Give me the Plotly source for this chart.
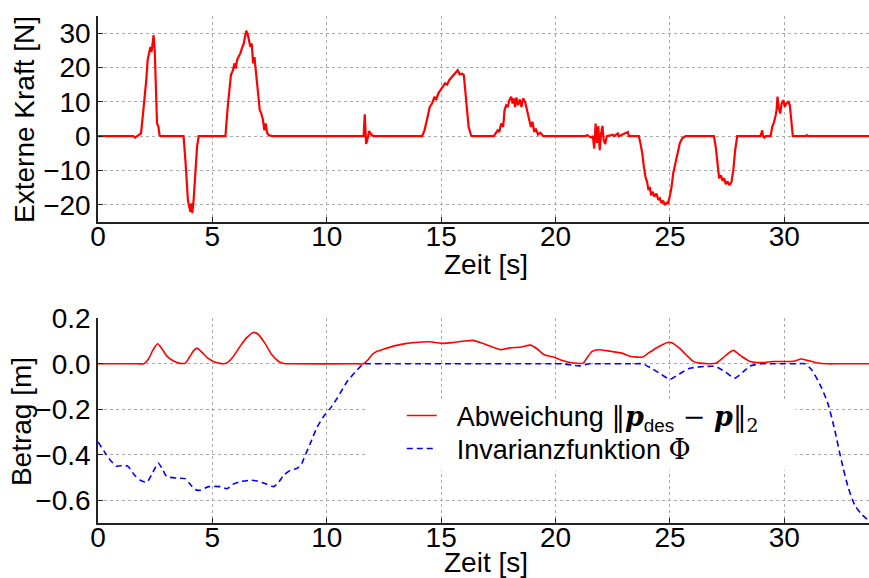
import plotly.graph_objects as go

# ---------------- data ----------------
force_t = [0, 1.55, 1.62, 1.70, 1.78, 1.88, 1.94, 1.99, 2.07, 2.11, 2.17, 2.22, 2.29, 2.34, 2.39, 2.43,
           2.48, 2.52, 2.58, 2.64, 2.69, 2.75,
           3.74, 3.82, 3.89, 3.93, 3.99, 4.04, 4.08, 4.12, 4.18, 4.25, 4.33, 4.40,
           5.57, 5.67, 5.75, 5.81, 5.90, 5.96, 6.02, 6.08, 6.15, 6.22, 6.29, 6.37, 6.44, 6.48, 6.54,
           6.60, 6.66, 6.72, 6.78, 6.84, 6.91, 6.98, 7.07, 7.14, 7.21, 7.27, 7.33, 7.39, 7.46, 7.61,
           11.61, 11.66, 11.72, 11.79, 11.85, 11.94, 12.03,
           14.17, 14.27, 14.36, 14.43, 14.50, 14.60, 14.71, 14.78, 14.87, 14.97, 15.07, 15.17, 15.26,
           15.35, 15.45, 15.55, 15.64, 15.72, 15.81, 15.92, 15.99, 16.06, 16.13, 16.20, 16.31, 16.36,
           17.30, 17.39, 17.47, 17.54, 17.62, 17.71, 17.77, 17.84, 17.91, 17.98, 18.06, 18.12, 18.17,
           18.23, 18.29, 18.36, 18.44, 18.51, 18.58, 18.67, 18.76, 18.84, 18.92, 18.99, 19.07, 19.14,
           19.23, 19.34, 19.46,
           21.31, 21.38, 21.45, 21.55, 21.63, 21.69, 21.75, 21.81, 21.87, 21.93, 21.99, 22.05, 22.10,
           22.17, 22.24, 22.47, 22.50, 22.55, 22.69, 22.72, 22.76, 23.13, 23.16, 23.20,
           23.64, 23.71, 23.79, 23.86, 23.93, 24.00, 24.06, 24.12, 24.18, 24.25, 24.32, 24.41, 24.49,
           24.56, 24.63, 24.70, 24.78, 24.85, 24.92, 24.99, 25.07, 25.14, 25.21, 25.29, 25.36, 25.43,
           25.53, 25.68,
           26.92, 27.00, 27.08, 27.15, 27.23, 27.30, 27.37, 27.44, 27.52, 27.60, 27.69, 27.77, 27.85, 27.94,
           28.96, 29.03, 29.07, 29.13, 29.18, 29.40, 29.47, 29.55, 29.62, 29.66, 29.70, 29.76, 29.82,
           29.88, 29.95, 30.02, 30.10, 30.18, 30.24, 30.32, 30.37, 30.93, 30.98, 31.03, 33.7]
force_v = [0, 0, -0.4, 0, 0.3, 0.8, 4.7, 7.6, 12.4, 16.3, 22.2, 24.1, 26.0, 24.5, 28.0, 29.4,
           25.0, 14.4, 3.7, 2.8, 0.3, 0,
           0, -7.0, -16.7, -18.6, -20.6, -22.0, -19.6, -22.4, -18.6, -9.9, -3.1, 0,
           0, 8.5, 15.4, 17.8, 19.2, 21.2, 19.7, 22.2, 23.2, 24.1, 25.6, 27.0, 29.4, 30.7, 29.8,
           28.3, 26.0, 27.0, 21.2, 23.0, 18.3, 11.5, 7.6, 6.6, 4.7, 1.7, 3.7, 1.0, 0.3, 0,
           0, 6.4, -2.3, -0.6, 1.5, 0.5, 0,
           0, 1.7, 4.2, 6.6, 8.5, 9.5, 11.5, 10.5, 12.4, 13.4, 14.4, 15.4, 15.0,
           16.3, 17.1, 17.8, 18.7, 19.2, 18.0, 18.2, 17.8, 12.4, 6.6, 2.7, 0.2, 0,
           0, 1.0, 1.7, 1.2, 3.7, 2.7, 7.6, 9.0, 8.5, 10.5, 11.5, 9.5, 11.0,
           8.5, 11.3, 9.0, 10.7, 8.5, 11.0, 10.0, 7.6, 4.7, 2.7, 4.2, 1.2, 2.2,
           0.5, 1.0, 0,
           0, 0.3, 0, -0.4, 0, -3.6, 3.7, -2.0, 2.9, -4.1, 0.7, 3.0, -1.0,
           -2.3, 0, 0.4, 0.4, 0, 0.8, 0.8, 0, 1.2, 1.2, 0,
           0, -2.1, -5.0, -8.9, -11.9, -13.3, -15.7, -14.8, -17.2, -16.2, -17.6, -16.7, -18.6,
           -18.1, -19.5, -18.8, -20.1, -19.4, -19.5, -17.6, -14.8, -10.9, -8.9, -6.0, -4.1, -2.1,
           -0.7, 0,
           0, -3.1, -8.0, -12.3, -11.4, -13.0, -12.3, -14.0, -13.2, -14.3, -13.3, -9.9, -4.1, 0,
           0, 1.7, 0, -0.4, 0, 0, 2.7, 4.1, 6.1, 7.6, 11.5, 8.1, 6.6,
           9.5, 10.5, 8.6, 9.7, 10.0, 9.0, 3.7, 0, 0, 0.3, 0, 0]

dev_t = [0, 1.7, 2.0, 2.2, 2.4, 2.61, 2.8, 3.0, 3.3, 3.6, 3.82, 4.0, 4.2, 4.33, 4.5, 4.8, 5.1, 5.4, 5.6,
         5.9, 6.2, 6.5, 6.8, 7.0, 7.3, 7.6, 7.9, 8.12, 8.5, 11.3, 11.6, 11.8, 12.0, 12.2, 12.5, 13.0, 13.5,
         14.0, 14.5, 15.0, 15.5, 16.0, 16.4, 16.8, 17.2, 17.6, 18.0, 18.5, 18.9, 19.2, 19.5, 19.9,
         20.3, 20.7, 21.2, 21.4, 21.6, 21.9, 22.4, 22.9, 23.3, 23.8, 24.1, 24.5, 24.9, 25.1, 25.4,
         25.7, 26.0, 26.3, 27.0, 27.3, 27.76, 28.1, 28.5, 29.0, 29.5, 29.9, 30.4, 30.74, 31.0, 31.4,
         31.9, 32.3, 33.7]
dev_v = [0, 0, 0, 0.02, 0.06, 0.088, 0.065, 0.035, 0.012, 0.002, 0.003, 0.03, 0.06, 0.069, 0.055,
         0.025, 0.008, 0.001, 0.002, 0.03, 0.075, 0.115, 0.138, 0.13, 0.09, 0.04, 0.01, 0.001, 0, 0, 0,
         0.018, 0.042, 0.055, 0.065, 0.08, 0.09, 0.095, 0.097, 0.09, 0.093, 0.1, 0.103, 0.09, 0.075,
         0.062, 0.07, 0.074, 0.082, 0.065, 0.04, 0.03, 0.015, 0.005, 0.003, 0.03, 0.055, 0.062,
         0.055, 0.047, 0.032, 0.03, 0.05, 0.075, 0.094, 0.092, 0.07, 0.04, 0.012, 0.003, 0.002,
         0.025, 0.059, 0.035, 0.01, 0.005, 0.01, 0.01, 0.011, 0.021, 0.015, 0.005, 0, 0, 0]

phi_t = [0, 0.3, 0.54, 0.8, 1.1, 1.3, 1.6, 1.85, 2.14, 2.4, 2.63, 2.8, 3.0, 3.45, 3.82, 4.03, 4.25,
         4.45, 4.84, 5.35, 5.64, 5.93, 6.22, 6.66, 6.95, 7.39, 7.68, 7.9, 8.12, 8.41, 8.7, 8.9, 9.0,
         9.28, 9.57, 9.86, 10.15, 10.45, 10.89, 11.33, 11.62, 11.9, 12.5, 19.9, 20.3, 20.7, 21.05,
         21.5, 22.0, 23.4, 23.8, 24.2, 24.6, 25.0, 25.4, 25.87, 26.5, 27.0, 27.4, 27.84, 28.2, 28.5,
         29.0, 29.5, 30.5, 30.9, 31.2, 31.6, 31.9, 32.2, 32.49, 32.78, 33.07, 33.36, 33.7]
phi_v = [-0.343, -0.39, -0.424, -0.45, -0.447, -0.45, -0.49, -0.512, -0.52, -0.477, -0.436, -0.46,
         -0.495, -0.503, -0.505, -0.53, -0.553, -0.556, -0.54, -0.54, -0.549, -0.528, -0.518,
         -0.512, -0.515, -0.53, -0.54, -0.52, -0.49, -0.468, -0.46, -0.44, -0.416, -0.35, -0.28,
         -0.232, -0.196, -0.152, -0.078, -0.027, 0, 0, 0, 0, 0, -0.005, -0.009,
         0, 0, 0, 0, -0.02, -0.045, -0.068, -0.045, -0.02, -0.012, -0.012, -0.035, -0.063, -0.035,
         -0.01, 0, 0, 0, 0, -0.027, -0.1, -0.174, -0.29, -0.424, -0.54, -0.62, -0.66, -0.69]

x_ticks = [0, 5, 10, 15, 20, 25, 30]
force_ticks = [-20, -10, 0, 10, 20, 30]
betrag_ticks = [-0.6, -0.4, -0.2, 0.0, 0.2]

name_dev = ('&nbsp;&nbsp;Abweichung <span style="font-family:DejaVu Serif">‖<b><i>p</i></b></span>'
            '<sub>des</sub><span style="font-family:DejaVu Serif"> − <b><i>p</i></b>‖<sub>2</sub></span>')
name_phi = '&nbsp;&nbsp;Invarianzfunktion <span style="font-family:DejaVu Serif">Φ</span>'

FONT = "Liberation Sans"
FS = 28

fig = go.Figure()
fig.add_trace(go.Scatter(x=force_t, y=force_v, mode="lines", line=dict(color="#ff0000", width=2.2),
                         showlegend=False, xaxis="x", yaxis="y"))
fig.add_trace(go.Scatter(x=dev_t, y=dev_v, mode="lines",
                         line=dict(color="#ff0000", width=1.6, shape="spline", smoothing=0.6),
                         name=name_dev, xaxis="x2", yaxis="y2", legend="legend"))
fig.add_trace(go.Scatter(x=phi_t, y=phi_v, mode="lines",
                         line=dict(color="#0000ff", width=1.6, dash="6px,4px", shape="spline", smoothing=0.6),
                         name=name_phi, xaxis="x2", yaxis="y2", legend="legend2"))

axis_common = dict(showline=True, linecolor="#222", linewidth=1.5, ticks="inside", ticklen=5,
                   tickcolor="#222", showgrid=True, gridcolor="#aaaaaa", griddash="dot", gridwidth=1,
                   zeroline=False, tickfont=dict(family=FONT, size=FS, color="black"), mirror=False)
xcommon = dict(ticklabelstandoff=-11, **axis_common)

leg_common = dict(xanchor="left", yanchor="middle", bgcolor="rgba(0,0,0,0)", borderwidth=0,
                  font=dict(family=FONT, size=27, color="black"))

fig.update_layout(
    width=869, height=578, margin=dict(l=98, r=0, t=16, b=55),
    paper_bgcolor="white", plot_bgcolor="white",
    font=dict(family=FONT, size=FS, color="black"),
    xaxis=dict(domain=[0, 1], range=[0, 33.7], tickvals=x_ticks, anchor="y", **xcommon),
    yaxis=dict(domain=[0.5937, 1], range=[-25, 35], tickvals=force_ticks, anchor="x", **axis_common),
    xaxis2=dict(domain=[0, 1], range=[0, 33.7], tickvals=x_ticks, anchor="y2", **xcommon),
    yaxis2=dict(domain=[0, 0.4037], range=[-0.7, 0.2], tickvals=betrag_ticks, tickformat=".1f",
                anchor="x2", **axis_common),
    legend=dict(x=0.394, y=0.211, **leg_common),
    legend2=dict(x=0.394, y=0.146, **leg_common),
    showlegend=True,
)

fig.add_shape(type="rect", xref="x2", yref="y2", x0=11.69, x1=30.49, y0=-0.468, y1=-0.16,
              fillcolor="white", line=dict(width=0), layer="between")

ann = dict(showarrow=False, font=dict(family=FONT, size=FS, color="black"), xref="paper", yref="paper")
fig.add_annotation(text="Zeit [s]", x=0.503, y=0.509, xanchor="center", yanchor="middle", **ann)
fig.add_annotation(text="Zeit [s]", x=0.503, y=-0.078, xanchor="center", yanchor="middle", **ann)
fig.add_annotation(text="Externe Kraft [N]", x=-0.0947, y=0.797, textangle=-90,
                   xanchor="center", yanchor="middle", **ann)
fig.add_annotation(text="Betrag [m]", x=-0.0999, y=0.201, textangle=-90,
                   xanchor="center", yanchor="middle", **ann)

fig.write_html("out.html")
